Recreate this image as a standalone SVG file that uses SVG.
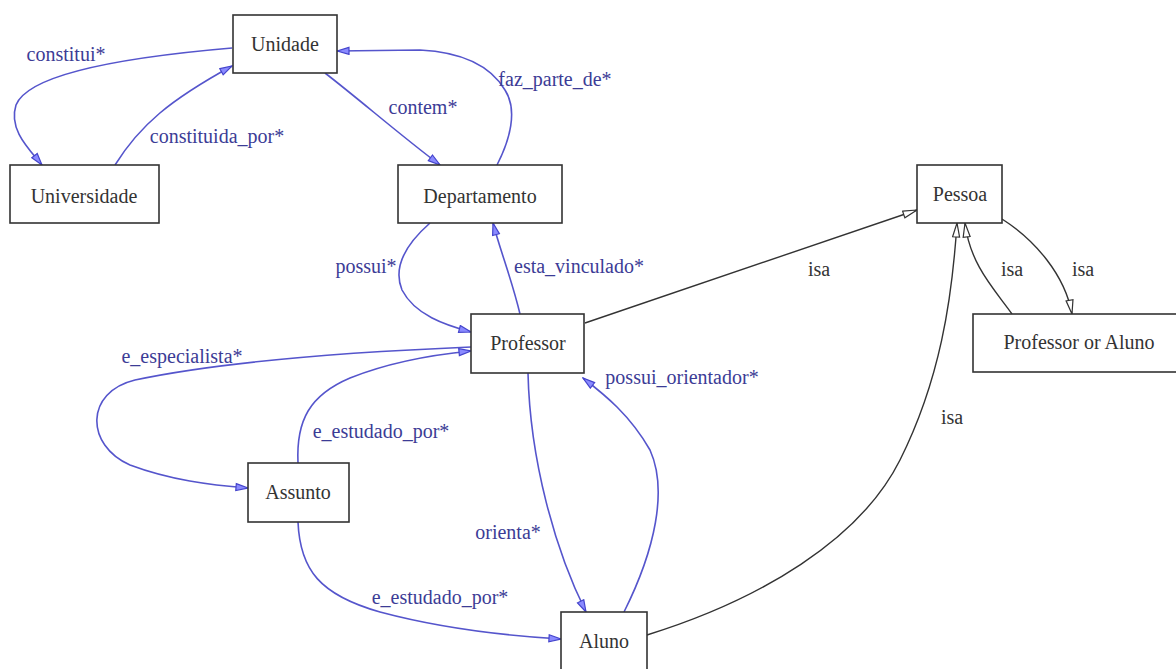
<svg xmlns="http://www.w3.org/2000/svg" width="1176" height="669" viewBox="0 0 1176 669" font-family="'Liberation Serif', Tinos, 'DejaVu Serif', serif">
<style>
.node rect{fill:#fff;stroke:#333;stroke-width:1.6}
.node text{font-family:'Liberation Serif',Tinos,'DejaVu Serif',serif;font-size:20px;fill:#333;text-anchor:middle}
.e{fill:none;stroke:#5555cc;stroke-width:1.6}
.k{fill:none;stroke:#333;stroke-width:1.4}
.lb{font-family:'Liberation Serif',Tinos,'DejaVu Serif',serif;font-size:20px;fill:#3c3c96;text-anchor:middle}
.lk{font-family:'Liberation Serif',Tinos,'DejaVu Serif',serif;font-size:20px;fill:#333;text-anchor:middle}
</style>
<defs>
<marker id="ab" markerUnits="userSpaceOnUse" markerWidth="14" markerHeight="10" refX="13" refY="4.5" orient="auto" viewBox="0 0 14 10">
<path d="M1,1 L13,4.5 L1,8 z" fill="#8a8aff" stroke="#4444cc" stroke-width="1.2"/>
</marker>
<marker id="ak" markerUnits="userSpaceOnUse" markerWidth="16" markerHeight="10" refX="15" refY="4.5" orient="auto" viewBox="0 0 16 10">
<path d="M1,1 L15,4.5 L1,8 z" fill="#fff" stroke="#333" stroke-width="1.2"/>
</marker>
</defs>
<rect width="1176" height="669" fill="#fff"/>
<g id="edges">
<path class="e" marker-end="url(#ab)" d="M232,48 C150,55 30,70 16,105 C8,130 30,150 42,165"/>
<path class="e" marker-end="url(#ab)" d="M115,165 C140,125 170,100 232,66"/>
<path class="e" marker-end="url(#ab)" d="M325,73 C360,100 400,135 440,165"/>
<path class="e" marker-end="url(#ab)" d="M497,165 C510,140 518,110 505,90 C490,65 460,52 420,50 L337,51"/>
<path class="e" marker-end="url(#ab)" d="M430,223 C405,245 393,268 402,290 C415,315 445,325 471,332"/>
<path class="e" marker-end="url(#ab)" d="M520,314 C512,280 500,250 493,223"/>
<path class="e" marker-end="url(#ab)" d="M471,347 C350,352 220,362 135,380 C85,392 85,445 130,465 C170,480 210,485 248,488"/>
<path class="e" marker-end="url(#ab)" d="M298,463 C296,420 310,395 350,378 C390,362 430,355 471,351"/>
<path class="e" marker-end="url(#ab)" d="M298,522 C300,570 320,595 380,612 C440,628 510,636 561,639"/>
<path class="e" marker-end="url(#ab)" d="M528,373 C530,460 555,550 586,612"/>
<path class="e" marker-end="url(#ab)" d="M624,612 C655,550 668,490 650,450 C630,415 605,395 583,378"/>
<path class="k" marker-end="url(#ak)" d="M585,323 L917,210"/>
<path class="k" marker-end="url(#ak)" d="M647,635 C760,600 860,540 900,460 C940,380 952,300 957,223"/>
<path class="k" marker-end="url(#ak)" d="M1012,314 C995,290 970,265 965,223"/>
<path class="k" marker-end="url(#ak)" d="M1002,219 C1035,240 1065,275 1072,314"/>
<text class="lb" x="66" y="61">constitui*</text>
<text class="lb" x="217" y="143">constituida_por*</text>
<text class="lb" x="423" y="114">contem*</text>
<text class="lb" x="555" y="86">faz_parte_de*</text>
<text class="lb" x="366" y="273">possui*</text>
<text class="lb" x="579" y="273">esta_vinculado*</text>
<text class="lb" x="182" y="363">e_especialista*</text>
<text class="lb" x="381" y="438">e_estudado_por*</text>
<text class="lb" x="682" y="384">possui_orientador*</text>
<text class="lb" x="508" y="539">orienta*</text>
<text class="lb" x="440" y="604">e_estudado_por*</text>
<text class="lk" x="819" y="276">isa</text>
<text class="lk" x="1012" y="276">isa</text>
<text class="lk" x="1083" y="276">isa</text>
<text class="lk" x="952" y="424">isa</text>
</g>
<g id="n-unidade" class="node"><rect x="233" y="15" width="104" height="58"/><text x="285" y="51">Unidade</text></g>
<g id="n-universidade" class="node"><rect x="10" y="165" width="149" height="58"/><text x="84" y="203">Universidade</text></g>
<g id="n-departamento" class="node"><rect x="398" y="165" width="164" height="58"/><text x="480" y="203">Departamento</text></g>
<g id="n-pessoa" class="node"><rect x="917" y="165" width="85" height="58"/><text x="960" y="201">Pessoa</text></g>
<g id="n-professor" class="node"><rect x="471" y="314" width="113" height="59"/><text x="528" y="350">Professor</text></g>
<g id="n-profaluno" class="node"><rect x="973" y="314" width="215" height="58"/><text x="1079" y="349">Professor or Aluno</text></g>
<g id="n-assunto" class="node"><rect x="248" y="463" width="101" height="59"/><text x="298" y="499">Assunto</text></g>
<g id="n-aluno" class="node"><rect x="561" y="612" width="86" height="62"/><text x="604" y="648">Aluno</text></g>
</svg>
